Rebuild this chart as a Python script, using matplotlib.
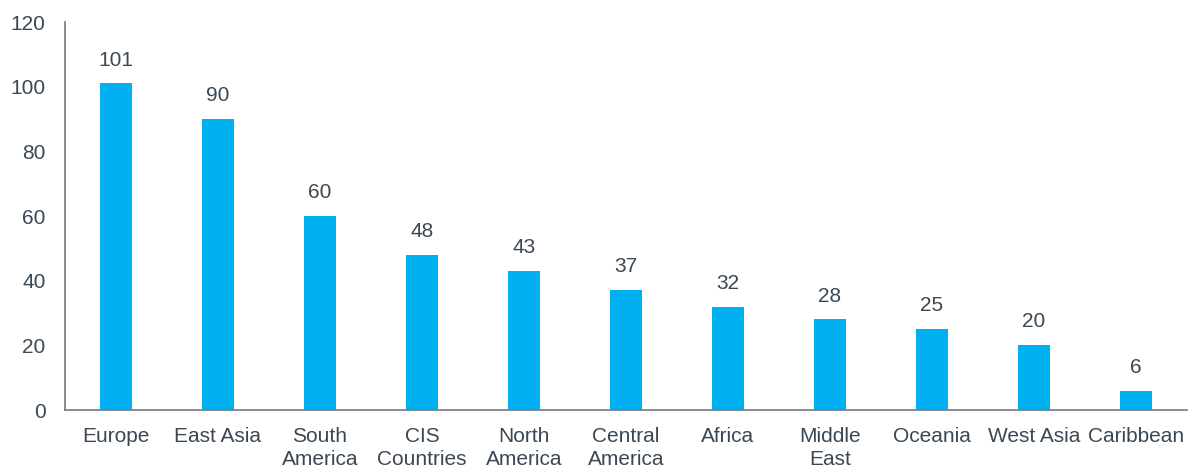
import matplotlib

matplotlib.use("Agg")
import matplotlib.pyplot as plt

regions = ["Europe", "East Asia", "South\nAmerica", "CIS\nCountries", "North\nAmerica",
           "Central\nAmerica", "Africa", "Middle\nEast", "Oceania", "West Asia", "Caribbean"]
counts = [101, 90, 60, 48, 43, 37, 32, 28, 25, 20, 6]

TEXT = "#3B4853"
BAR = "#00B0F0"
AXIS = "#6E7A82"
FS = 15

plt.rcParams["font.family"] = ["Liberation Sans", "DejaVu Sans"]

fig = plt.figure(figsize=(11.94, 4.71), dpi=100)
ax = fig.add_axes([65 / 1194, 1 - 410 / 471, (1187 - 65) / 1194, 388 / 471])

x = range(len(regions))
bars = ax.bar(x, counts, width=0.31, color=BAR)
for b, v in zip(bars, counts):
    ax.annotate(str(v), (b.get_x() + b.get_width() / 2, v), xytext=(0, 10),
                textcoords="offset points", ha="center", va="bottom", fontsize=FS, color=TEXT)

ax.set_xlim(-0.5, len(regions) - 0.5)
ax.set_ylim(0, 120)
ax.set_yticks(range(0, 121, 20))
ax.set_xticks(list(x))
ax.set_xticklabels(regions, linespacing=1.3)
ax.tick_params(axis="both", length=0, labelsize=FS, labelcolor=TEXT)
ax.tick_params(axis="y", pad=14)
ax.tick_params(axis="x", pad=12)
for s in ("top", "right"):
    ax.spines[s].set_visible(False)
for s in ("left", "bottom"):
    ax.spines[s].set_color(AXIS)
    ax.spines[s].set_linewidth(1.2)

fig.savefig("out.png", dpi=100, facecolor="white")
